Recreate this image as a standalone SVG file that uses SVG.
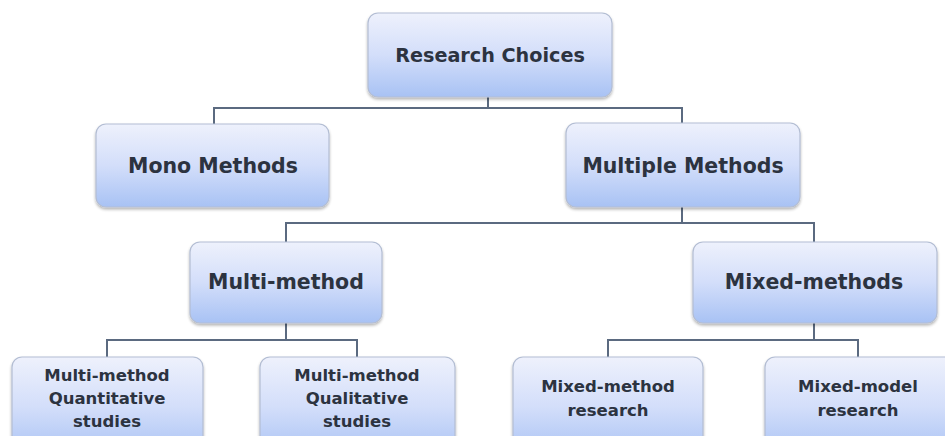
<svg xmlns="http://www.w3.org/2000/svg" width="945" height="436" viewBox="0 0 945 436">
<defs>
<linearGradient id="g" x1="0" y1="0" x2="0" y2="1">
<stop offset="0" stop-color="#eef1fc"/>
<stop offset="0.5" stop-color="#d3defa"/>
<stop offset="1" stop-color="#a8c2f4"/>
</linearGradient>
<filter id="sh" x="-10%" y="-10%" width="120%" height="130%">
<feGaussianBlur in="SourceAlpha" stdDeviation="1.5"/>
<feOffset dx="0" dy="2" result="b"/>
<feComponentTransfer><feFuncA type="linear" slope="0.3"/></feComponentTransfer>
<feMerge><feMergeNode/><feMergeNode in="SourceGraphic"/></feMerge>
</filter>
</defs>
<style>
.box{fill:url(#g);stroke:#b3bdd3;stroke-width:1.2;filter:url(#sh)}
.t{font-family:"DejaVu Sans","Open Sans",sans-serif;font-weight:bold;fill:#2c3340;text-anchor:middle}
.big{font-size:20.5px}
.rc{font-size:19.2px}
.sm{font-size:16.5px}
.c{fill:none;stroke:#5b6a80;stroke-width:2}
</style>
<rect width="945" height="436" fill="#ffffff"/>
<g id="connectors">
<path class="c" d="M488 97V108M214 124V108H682V123"/>
<path class="c" d="M682 207V223M286 242V223H814V242"/>
<path class="c" d="M286 323V340M107 357V340H357V357"/>
<path class="c" d="M814 323V340M608 357V340H858V357"/>
</g>
<g id="research-choices"><rect class="box" x="368" y="13" width="244" height="84" rx="10"/><text class="t rc" x="490" y="62">Research Choices</text></g>
<g id="mono-methods"><rect class="box" x="96" y="124" width="233" height="83" rx="10"/><text class="t big" x="213" y="173">Mono Methods</text></g>
<g id="multiple-methods"><rect class="box" x="566" y="123" width="234" height="84" rx="10"/><text class="t big" x="683" y="173">Multiple Methods</text></g>
<g id="multi-method"><rect class="box" x="190" y="242" width="192" height="81" rx="10"/><text class="t big" x="286" y="289">Multi-method</text></g>
<g id="mixed-methods"><rect class="box" x="693" y="242" width="244" height="81" rx="10"/><text class="t big" x="814" y="289">Mixed-methods</text></g>
<g id="mm-quant"><rect class="box" x="12" y="357" width="191" height="100" rx="10"/><text class="t sm" x="107" y="381">Multi-method</text><text class="t sm" x="107" y="404">Quantitative</text><text class="t sm" x="107" y="427">studies</text></g>
<g id="mm-qual"><rect class="box" x="260" y="357" width="195" height="100" rx="10"/><text class="t sm" x="357" y="381">Multi-method</text><text class="t sm" x="357" y="404">Qualitative</text><text class="t sm" x="357" y="427">studies</text></g>
<g id="mixed-method-research"><rect class="box" x="513" y="357" width="190" height="100" rx="10"/><text class="t sm" x="608" y="392">Mixed-method</text><text class="t sm" x="608" y="416">research</text></g>
<g id="mixed-model-research"><rect class="box" x="765" y="357" width="190" height="100" rx="10"/><text class="t sm" x="858" y="392">Mixed-model</text><text class="t sm" x="858" y="416">research</text></g>
</svg>
